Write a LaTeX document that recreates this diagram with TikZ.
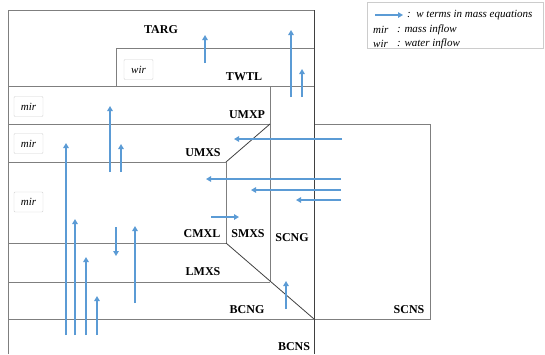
\documentclass[tikz,border=0pt]{standalone}
\usepackage{fontspec}
\setmainfont{Liberation Serif}
\usetikzlibrary{arrows.meta}
\definecolor{flow}{HTML}{5B9BD5}
\definecolor{wallc}{HTML}{7F7F7F}
\definecolor{darkw}{HTML}{404040}
\tikzset{
  wall/.style={draw=wallc, line width=0.9pt},
  dwall/.style={draw=darkw, line width=0.8pt},
  flowarrow/.style={draw=flow, line width=1.6pt, -{Triangle[length=5pt,width=5.5pt]}},
  zonelabel/.style={font=\fontsize{12}{14}\selectfont\bfseries, inner sep=0pt},
  inbox/.style={draw=gray!35, rounded corners=1pt, minimum width=29pt, minimum height=20pt, inner sep=0pt, font=\fontsize{11}{13}\selectfont\itshape},
  legtext/.style={font=\fontsize{11}{13}\selectfont\itshape, anchor=west, inner sep=0pt}
}
\begin{document}
\begin{tikzpicture}[x=1pt,y=-1pt]
\useasboundingbox (0,0) rectangle (545,354);
% walls
\draw[wall] (8,354) -- (8,10) -- (314,10);
\draw[wall] (116,86) -- (116,48) -- (314,48);
\draw[wall] (8,86) -- (314,86);
\draw[wall] (270,86) -- (270,282);
\draw[wall] (8,124) -- (270,124);
\draw[dwall] (270,124) -- (226,162);
\draw[wall] (8,162) -- (226,162) -- (226,243) -- (8,243);
\draw[dwall] (226,243) -- (314,319);
\draw[wall] (8,282) -- (270,282);
\draw[wall] (8,319) -- (430,319) -- (430,124) -- (314,124);
\draw[dwall] (314,10) -- (314,354);
% labels
\node[zonelabel] (targ) at (161,30) {TARG};
\node[zonelabel] (twtl) at (244,77) {TWTL};
\node[zonelabel] (umxp) at (247,115) {UMXP};
\node[zonelabel] (umxs) at (203,153) {UMXS};
\node[zonelabel] (cmxl) at (202,234) {CMXL};
\node[zonelabel] (smxs) at (248,234) {SMXS};
\node[zonelabel] (scng) at (292,238) {SCNG};
\node[zonelabel] (lmxs) at (203,272) {LMXS};
\node[zonelabel] (bcng) at (247,310) {BCNG};
\node[zonelabel] (bcns) at (294,347) {BCNS};
\node[zonelabel] (scns) at (409,310) {SCNS};
% inflow boxes
\node[inbox] (wirbox) at (138.5,69.5) {wir};
\node[inbox] (mir1) at (28.5,106.5) {mir};
\node[inbox] (mir2) at (28.5,143.5) {mir};
\node[inbox] (mir3) at (28.5,202) {mir};
% flow arrows
\draw[flowarrow] (205,63) -- (205,35);
\draw[flowarrow] (291,97) -- (291,30);
\draw[flowarrow] (302,97) -- (302,69);
\draw[flowarrow] (110,172) -- (110,106);
\draw[flowarrow] (121,172) -- (121,144);
\draw[flowarrow] (66,335) -- (66,143);
\draw[flowarrow] (75,335) -- (75,219);
\draw[flowarrow] (86,335) -- (86,257);
\draw[flowarrow] (97,335) -- (97,296);
\draw[flowarrow] (116,227) -- (116,256);
\draw[flowarrow] (135,303) -- (135,226);
\draw[flowarrow] (286,309) -- (286,281);
\draw[flowarrow] (342,139) -- (234,139);
\draw[flowarrow] (341,179) -- (206,179);
\draw[flowarrow] (341,190) -- (251,190);
\draw[flowarrow] (341,200) -- (296,200);
\draw[flowarrow] (211,217) -- (239,217);
% legend
\node[draw=gray!40, minimum width=176pt, minimum height=46pt, inner sep=0pt] (legend) at (455,25) {};
\draw[flowarrow, line width=1.3pt] (375,15) -- (403,15);
\node[legtext] (l1) at (407,15) {:\ \ w terms in mass equations};
\node[legtext] (l2a) at (373,30) {mir};
\node[legtext] (l2b) at (397,30) {: mass inflow};
\node[legtext] (l3a) at (373,44) {wir};
\node[legtext] (l3b) at (397,44) {: water inflow};
\end{tikzpicture}
\end{document}
